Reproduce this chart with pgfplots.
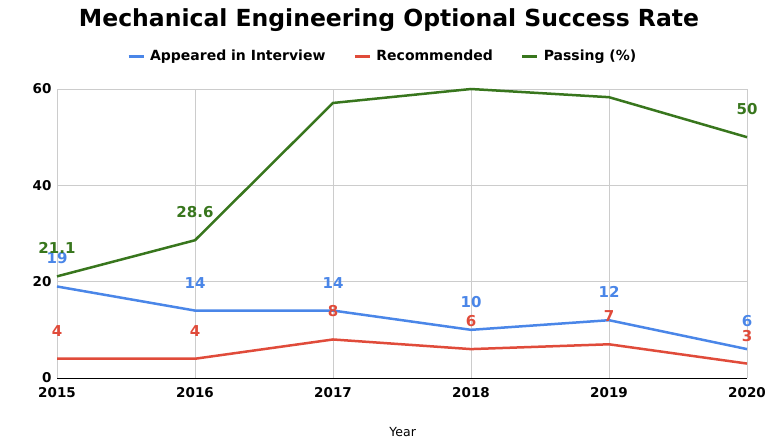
\documentclass[border=0pt]{standalone}
\usepackage{fontspec}
\setmainfont{DejaVu Sans}
\setsansfont{DejaVu Sans}
\usepackage{pgfplots}
\pgfplotsset{compat=1.18}
\definecolor{cblue}{HTML}{4A86E8}
\definecolor{cred}{HTML}{E04B3A}
\definecolor{cgreen}{HTML}{38761D}
\definecolor{cgrid}{HTML}{CCCCCC}
\begin{document}
\begin{tikzpicture}
\path[use as bounding box] (0,0) rectangle (781pt,445pt);
\node[font=\bfseries\fontsize{23.5}{26}\selectfont] at (389pt,425pt) {Mechanical Engineering Optional Success Rate};
\begin{axis}[
  at={(57pt,67pt)}, anchor=south west,
  scale only axis, width=690pt, height=289pt,
  xmin=2015, xmax=2020, ymin=0, ymax=60,
  xtick={2015,2016,2017,2018,2019,2020},
  ytick={0,20,40,60},
  xticklabel style={/pgf/number format/1000 sep={}},
  /pgf/number format/assume math mode=true,
  ticklabel style={font=\bfseries\fontsize{13.5}{15}\selectfont},
  major tick length=0pt,
  grid=major, grid style={cgrid, line width=0.8pt},
  axis lines=left,
  x axis line style={black,-, line width=0.8pt},
  y axis line style={cgrid,-, line width=0.8pt},
  xticklabel style={yshift=-6pt},
  yticklabel style={xshift=-2pt},
  xlabel={Year},
  xlabel style={at={(axis description cs:0.501,-0.187)}, anchor=center, font=\fontsize{12.5}{14}\selectfont},
  legend columns=3,
  legend style={at={(axis description cs:0.472,1.114)}, anchor=center, draw=none, fill=none,
    font=\bfseries\fontsize{14}{16}\selectfont,
    /tikz/every odd column/.append style={column sep=3pt},
    /tikz/every even column/.append style={column sep=26pt}},
  legend image code/.code={\draw[#1, line width=3pt] (0pt,0pt) -- (15pt,0pt);},
  nodes near coords,
  point meta=explicit symbolic,
  every node near coord/.append style={anchor=center, yshift=28pt, font=\bfseries\fontsize{15}{17}\selectfont},
  clip=false,
]
\addplot[cblue, line width=2.5pt, mark=none, every node near coord/.append style={text=cblue}] coordinates {
 (2015,19) [19] (2016,14) [14] (2017,14) [14] (2018,10) [10] (2019,12) [12] (2020,6) [6]};
\addlegendentry{Appeared in Interview}
\addplot[cred, line width=2.5pt, mark=none, every node near coord/.append style={text=cred}] coordinates {
 (2015,4) [4] (2016,4) [4] (2017,8) [8] (2018,6) [6] (2019,7) [7] (2020,3) [3]};
\addlegendentry{Recommended}
\addplot[cgreen, line width=2.5pt, mark=none, every node near coord/.append style={text=cgreen}] coordinates {
 (2015,21.1) [21.1] (2016,28.6) [28.6] (2017,57.1) [] (2018,60) [] (2019,58.3) [] (2020,50) [50]};
\addlegendentry{Passing (\%)}
\end{axis}
\end{tikzpicture}
\end{document}
